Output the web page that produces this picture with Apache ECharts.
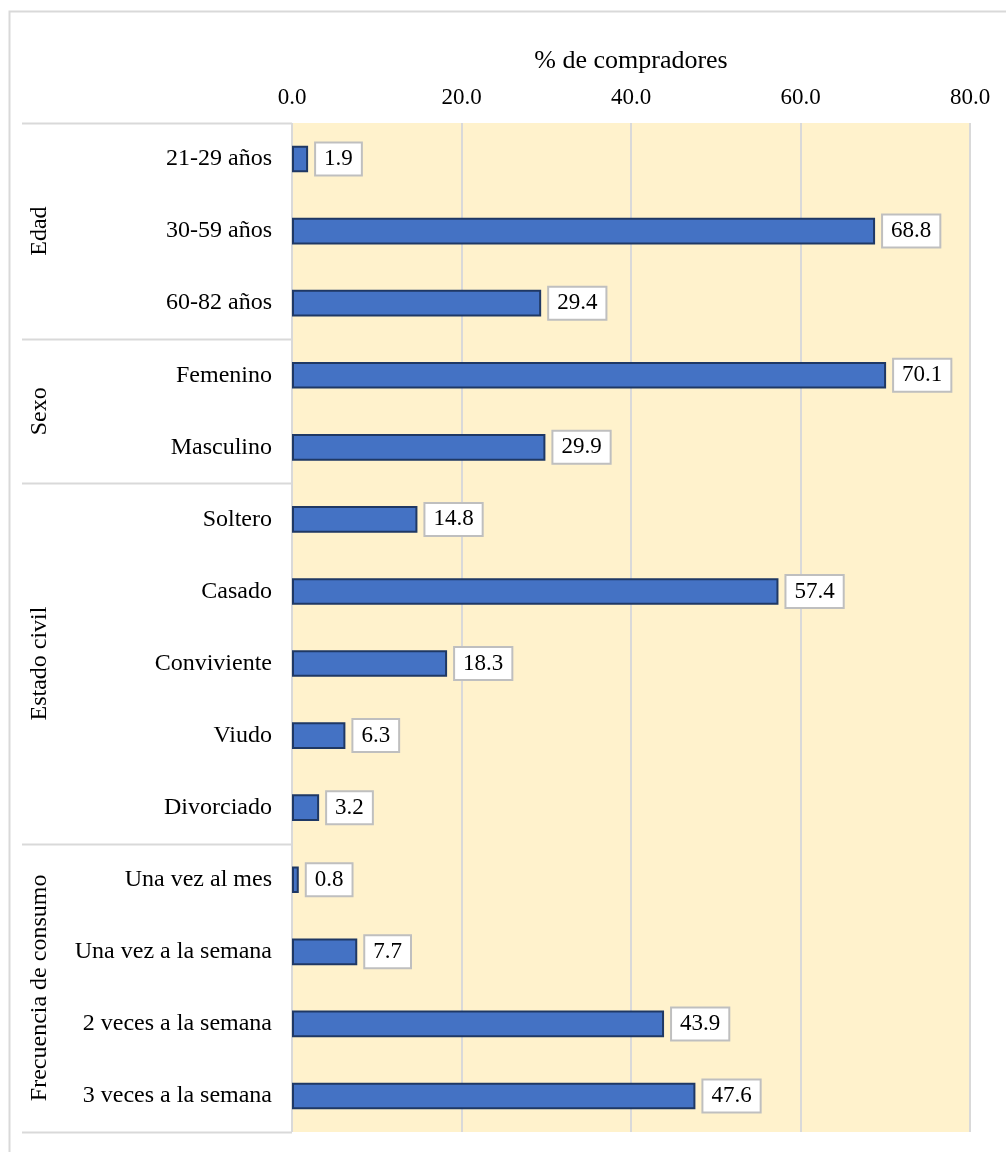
<!DOCTYPE html>
<html>
<head>
<meta charset="utf-8">
<script src="https://cdn.jsdelivr.net/npm/echarts@6/dist/echarts.min.js"></script>
<style>
html,body{margin:0;padding:0;background:#fff;}
#chart{width:1006px;height:1152px;}
</style>
</head>
<body>
<div id="chart"></div>
<script>
const categories = ["21-29 años","30-59 años","60-82 años","Femenino","Masculino","Soltero","Casado","Conviviente","Viudo","Divorciado","Una vez al mes","Una vez a la semana","2 veces a la semana","3 veces a la semana"];
const values = [1.9,68.8,29.4,70.1,29.9,14.8,57.4,18.3,6.3,3.2,0.8,7.7,43.9,47.6];
const groups = ["Edad","Sexo","Estado civil","Frecuencia de consumo"];
const groupSizes = [3,2,5,4];
const xTicks = [0,20,40,60,80];
const axisTitle = "% de compradores";

const FONT = "'Liberation Serif','Times New Roman',serif";
const G = {left:292, top:123, width:678, height:1009};
const rowH = G.height / categories.length;

const graphics = [];
graphics.push({type:'rect', shape:{x:9.5,y:11.5,width:1100,height:1200}, style:{fill:'none',stroke:'#d9d9d9',lineWidth:2}, silent:true});
let start = 0;
const lineY = [G.top];
groups.forEach((g,i)=>{
  const end = start + groupSizes[i];
  lineY.push(G.top + end*rowH);
  const cy = G.top + (start+end)/2*rowH;
  graphics.push({type:'text', x:40, y:cy, rotation:Math.PI/2,
    style:{text:g, font:"24px "+FONT, fill:'#000', align:'center', verticalAlign:'middle'}, silent:true});
  start = end;
});
lineY.forEach(y=>{
  graphics.push({type:'line', shape:{x1:22,y1:Math.round(y)+0.5,x2:G.left,y2:Math.round(y)+0.5}, style:{stroke:'#d9d9d9',lineWidth:2}, silent:true});
});

const chart = echarts.init(document.getElementById('chart'));
chart.setOption({
  animation:false,
  backgroundColor:'#fff',
  grid:{left:G.left, top:G.top, width:G.width, height:G.height, show:true, backgroundColor:'#FFF2CC', borderWidth:0},
  xAxis:{
    type:'value', position:'top', min:xTicks[0], max:xTicks[xTicks.length-1], interval:20,
    name:axisTitle, nameLocation:'middle', nameGap:49,
    nameTextStyle:{fontFamily:FONT, fontSize:26, color:'#000'},
    axisLine:{show:false}, axisTick:{show:false},
    axisLabel:{formatter:v=>v.toFixed(1), fontFamily:FONT, fontSize:23, color:'#000', margin:14},
    splitLine:{show:true, lineStyle:{color:'#d9d9d9', width:2}}
  },
  yAxis:{
    type:'category', data:categories, inverse:true,
    axisLine:{show:false}, axisTick:{show:false},
    axisLabel:{fontFamily:FONT, fontSize:24, color:'#000', margin:20}
  },
  series:[{
    type:'bar', data:values, barWidth:'37%',
    itemStyle:{color:'#4472C4', borderColor:'#1F3864', borderWidth:2},
    label:{show:true, position:'right', distance:8, formatter:p=>p.value.toFixed(1),
      fontFamily:FONT, fontSize:23, color:'#000', backgroundColor:'#fff',
      borderColor:'#bfbfbf', borderWidth:2, padding:[5,8,3,8]}
  }],
  graphic:graphics
});
</script>
</body>
</html>
